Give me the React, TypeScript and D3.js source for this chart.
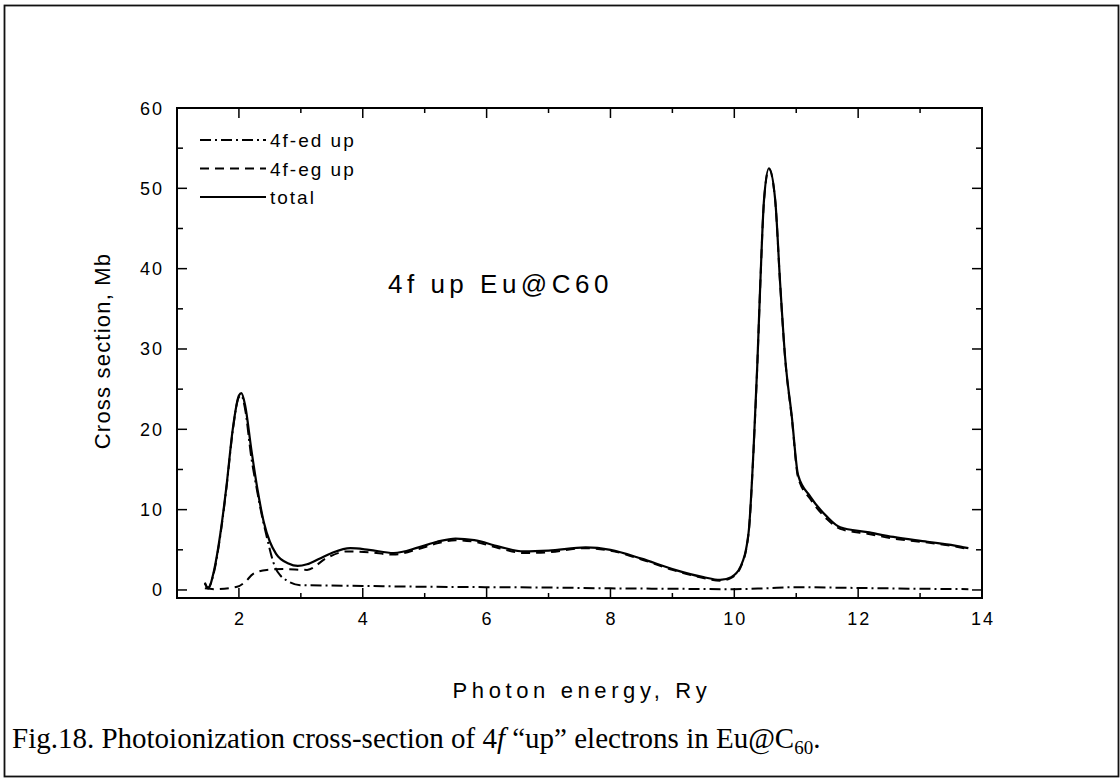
import React from "react";
import * as d3 from "d3";

// ---- data ----
const xTicks = [2, 4, 6, 8, 10, 12, 14];
const yTicks = [0, 10, 20, 30, 40, 50, 60];

const totalX = [1.45, 1.5, 1.6, 1.7, 1.8, 1.9, 2.0, 2.04, 2.1, 2.2, 2.3, 2.4, 2.5, 2.6, 2.8, 2.95, 3.1, 3.3, 3.5, 3.8, 4.1, 4.5, 4.9, 5.2, 5.5, 5.8, 6.2, 6.6, 7.0, 7.6, 8.0, 8.5, 9.0, 9.5, 9.77, 9.95, 10.1, 10.23, 10.31, 10.37, 10.42, 10.48, 10.56, 10.66, 10.74, 10.82, 10.93, 11.03, 11.23, 11.5, 11.71, 12.15, 12.57, 13.12, 13.65, 13.78];
const totalY = [0.9, 0.2, 2.5, 7, 13, 20, 24.2, 24.5, 23, 17.5, 12.5, 8.5, 6, 4.5, 3.3, 3.0, 3.2, 3.9, 4.6, 5.2, 5.0, 4.6, 5.3, 6.0, 6.4, 6.2, 5.4, 4.8, 4.9, 5.3, 5.0, 3.9, 2.6, 1.6, 1.25, 1.6, 2.9, 7.1, 17.4, 27.8, 38.2, 48.6, 52.5, 48.6, 38.2, 29, 21.5, 14.3, 11.6, 9.1, 7.8, 7.2, 6.6, 6.0, 5.4, 5.2];

const egX = [1.45, 1.6, 1.97, 2.1, 2.23, 2.45, 2.71, 3.1, 3.42, 3.75, 4.1, 4.49, 4.9, 5.2, 5.5, 5.8, 6.2, 6.6, 7.0, 7.6, 8.0, 8.5, 9.0, 9.5, 9.77, 9.95, 10.1, 10.23, 10.31, 10.37, 10.42, 10.48, 10.56, 10.66, 10.74, 10.82, 10.93, 11.03, 11.23, 11.5, 11.71, 12.15, 12.57, 13.12, 13.65, 13.78];
const egY = [0.2, 0.1, 0.4, 1.0, 2.0, 2.5, 2.6, 2.5, 4.0, 4.8, 4.7, 4.4, 5.1, 5.8, 6.2, 6.0, 5.2, 4.6, 4.7, 5.2, 4.9, 3.8, 2.5, 1.5, 1.15, 1.5, 2.8, 7.0, 17.3, 27.7, 38.1, 48.5, 52.4, 48.5, 38.1, 28.9, 21.3, 14.0, 11.3, 8.8, 7.6, 7.0, 6.4, 5.9, 5.3, 5.1];

const edX = [1.45, 1.5, 1.6, 1.7, 1.8, 1.9, 2.0, 2.04, 2.1, 2.2, 2.29, 2.37, 2.45, 2.52, 2.58, 2.67, 2.77, 2.99, 3.5, 4, 5, 6, 7, 8, 9, 10, 10.5, 11, 11.5, 12, 13, 13.78];
const edY = [0.8, 0.3, 2.3, 6.8, 12.8, 19.8, 24.0, 24.2, 22.5, 16.5, 12.5, 9.3, 6.6, 4.4, 2.9, 1.8, 1.2, 0.6, 0.55, 0.5, 0.4, 0.35, 0.3, 0.2, 0.15, 0.1, 0.2, 0.35, 0.3, 0.25, 0.15, 0.1];

const legendItems = [
  { label: "4f-ed up", dash: "11,4,2,4" },
  { label: "4f-eg up", dash: "9,6" },
  { label: "total", dash: "none" },
];

export default function App() {
  const x = d3.scaleLinear().domain([1, 14]).range([177, 982]);
  const y = d3.scaleLinear().domain([-1, 60]).range([598, 108]);
  const line = d3
    .line<[number, number]>()
    .x((d) => x(d[0]))
    .y((d) => y(d[1]))
    .curve(d3.curveMonotoneX);
  const zip = (a: number[], b: number[]) => a.map((v, i) => [v, b[i]] as [number, number]);

  const [x0, x1] = x.range();
  const [y0, y1] = y.range();
  const minorX = d3.range(1, 14.01, 1).filter((v) => v % 2 === 1);
  const minorY = d3.range(5, 60, 10);
  const sans = "'Liberation Sans', Arial, sans-serif";

  return (
    <svg
      width={1120}
      height={778}
      style={{ position: "absolute", left: 0, top: 0, background: "#fff" }}
    >
      <rect x={4.5} y={5.5} width={1114} height={771} fill="none" stroke="#111" strokeWidth={1.8} />

      {/* curves */}
      <path d={line(zip(edX, edY)) || ""} fill="none" stroke="#000" strokeWidth={2} strokeDasharray="11,4,2,4" />
      <path d={line(zip(egX, egY)) || ""} fill="none" stroke="#000" strokeWidth={2} strokeDasharray="9,6" />
      <path d={line(zip(totalX, totalY)) || ""} fill="none" stroke="#000" strokeWidth={2.2} />

      {/* frame */}
      <rect x={x0} y={y1} width={x1 - x0} height={y0 - y1} fill="none" stroke="#000" strokeWidth={2} />

      {/* x ticks */}
      {xTicks.map((t) => (
        <g key={"xt" + t}>
          <line x1={x(t)} x2={x(t)} y1={y0} y2={y0 - 10} stroke="#000" strokeWidth={1.5} />
          <line x1={x(t)} x2={x(t)} y1={y1} y2={y1 + 10} stroke="#000" strokeWidth={1.5} />
          <text x={x(t) + 1} y={625} textAnchor="middle" fontFamily={sans} fontSize={18} letterSpacing={2}>
            {t}
          </text>
        </g>
      ))}
      {minorX.map((t) => (
        <g key={"xm" + t}>
          <line x1={x(t)} x2={x(t)} y1={y0} y2={y0 - 5} stroke="#000" strokeWidth={1.5} />
          <line x1={x(t)} x2={x(t)} y1={y1} y2={y1 + 5} stroke="#000" strokeWidth={1.5} />
        </g>
      ))}

      {/* y ticks */}
      {yTicks.map((t) => (
        <g key={"yt" + t}>
          <line x1={x0} x2={x0 + 10} y1={y(t)} y2={y(t)} stroke="#000" strokeWidth={1.5} />
          <line x1={x1} x2={x1 - 10} y1={y(t)} y2={y(t)} stroke="#000" strokeWidth={1.5} />
          <text x={164} y={y(t) + 6.5} textAnchor="end" fontFamily={sans} fontSize={18} letterSpacing={2}>
            {t}
          </text>
        </g>
      ))}
      {minorY.map((t) => (
        <g key={"ym" + t}>
          <line x1={x0} x2={x0 + 6} y1={y(t)} y2={y(t)} stroke="#000" strokeWidth={1.5} />
          <line x1={x1} x2={x1 - 6} y1={y(t)} y2={y(t)} stroke="#000" strokeWidth={1.5} />
        </g>
      ))}

      {/* axis titles */}
      <text x={582} y={698} textAnchor="middle" fontFamily={sans} fontSize={22} letterSpacing={4.6}>
        Photon energy, Ry
      </text>
      <text
        transform="translate(110,351) rotate(-90)"
        textAnchor="middle"
        fontFamily={sans}
        fontSize={22}
        letterSpacing={1.2}
      >
        Cross section, Mb
      </text>

      {/* annotation */}
      <text x={388} y={293} fontFamily={sans} fontSize={26} letterSpacing={4.5}>
        4f up Eu@C60
      </text>

      {/* legend */}
      {legendItems.map((it, i) => {
        const ly = 140 + i * 28.5;
        return (
          <g key={it.label}>
            <line x1={200} x2={266} y1={ly} y2={ly} stroke="#000" strokeWidth={2} strokeDasharray={it.dash} />
            <text x={270} y={ly + 7} fontFamily={sans} fontSize={19} letterSpacing={2}>
              {it.label}
            </text>
          </g>
        );
      })}

      {/* caption */}
      <text x={12} y={748} fontFamily="'Liberation Serif', 'Times New Roman', serif" fontSize={29}>
        Fig.18. Photoionization cross-section of 4<tspan fontStyle="italic">f</tspan> “up” electrons in Eu@C
        <tspan fontSize={19} dy={6}>60</tspan>
        <tspan dy={-6}>.</tspan>
      </text>
    </svg>
  );
}
